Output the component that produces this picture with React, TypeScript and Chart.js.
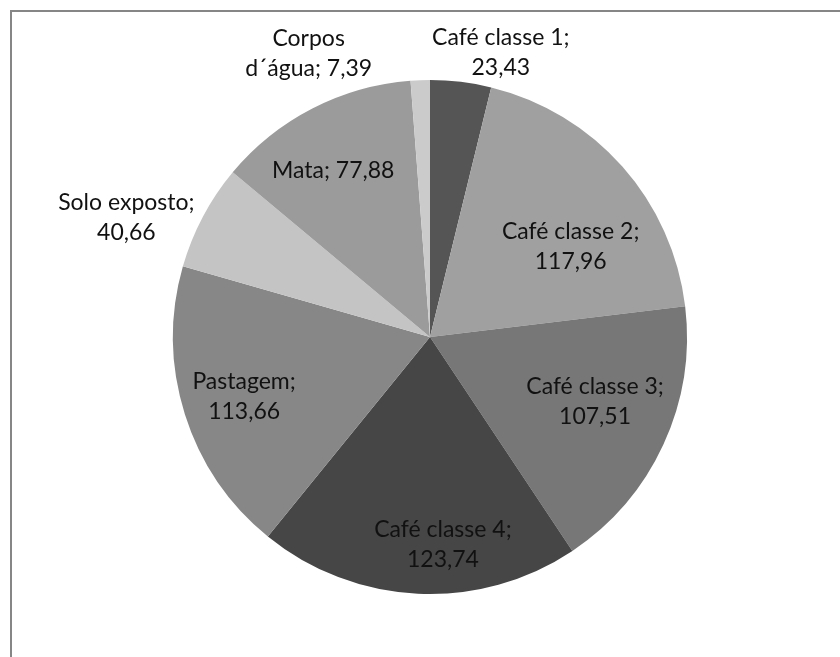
import React, { useEffect, useRef } from "react";
import { Chart, registerables } from "chart.js";

Chart.register(...registerables);

const categories = [
  "Café classe 1",
  "Café classe 2",
  "Café classe 3",
  "Café classe 4",
  "Pastagem",
  "Solo exposto",
  "Mata",
  "Corpos d´água",
];
const values = [23.43, 117.96, 107.51, 123.74, 113.66, 40.66, 77.88, 7.39];
const valueLabels = ["23,43", "117,96", "107,51", "123,74", "113,66", "40,66", "77,88", "7,39"];
const colors = ["#555555", "#a0a0a0", "#777777", "#464646", "#878787", "#c4c4c4", "#9b9b9b", "#cbcbcb"];

// label layout: text lines, radial factor (of outer radius) and angle shift (degrees) from slice mid-angle
const labelLines = [
  ["Café classe 1;", "23,43"],
  ["Café classe 2;", "117,96"],
  ["Café classe 3;", "107,51"],
  ["Café classe 4;", "123,74"],
  ["Pastagem;", "113,66"],
  ["Solo exposto;", "40,66"],
  ["Mata; 77,88"],
  ["Corpos", "d´água; 7,39"],
];
const labelRadius = [1.14, 0.65, 0.69, 0.81, 0.76, 1.27, 0.75, 1.2];
const labelShift = [7.1, 8.9, -3.3, -6.3, -0.4, -6.4, -2.9, -21];

const labelPlugin = {
  id: "sliceLabels",
  afterDatasetsDraw(chart: any) {
    const ctx = chart.ctx;
    const meta = chart.getDatasetMeta(0);
    ctx.save();
    ctx.fillStyle = "#111111";
    ctx.font = "23px Lato, 'Open Sans', sans-serif";
    ctx.textAlign = "center";
    ctx.textBaseline = "middle";
    meta.data.forEach((arc: any, i: number) => {
      const p = arc.getProps(["x", "y", "startAngle", "endAngle", "outerRadius"], true);
      const mid = (p.startAngle + p.endAngle) / 2 + (labelShift[i] * Math.PI) / 180;
      const r = p.outerRadius * labelRadius[i];
      const cx = p.x + Math.cos(mid) * r;
      const cy = p.y + Math.sin(mid) * r;
      const lines = labelLines[i];
      const lh = 30;
      lines.forEach((t, k) => {
        ctx.fillText(t, cx, cy + (k - (lines.length - 1) / 2) * lh);
      });
    });
    ctx.restore();
  },
};

const framePlugin = {
  id: "frame",
  beforeDraw(chart: any) {
    const ctx = chart.ctx;
    ctx.save();
    ctx.fillStyle = "#ffffff";
    ctx.fillRect(0, 0, chart.width, chart.height);
    ctx.strokeStyle = "#868686";
    ctx.lineWidth = 2;
    ctx.beginPath();
    ctx.moveTo(11, chart.height + 5);
    ctx.lineTo(11, 11);
    ctx.lineTo(chart.width + 5, 11);
    ctx.stroke();
    ctx.restore();
  },
};

export default function App() {
  const ref = useRef<HTMLCanvasElement>(null);
  useEffect(() => {
    if (!ref.current) return;
    const chart = new Chart(ref.current, {
      type: "pie",
      data: {
        labels: categories,
        datasets: [
          {
            data: values,
            backgroundColor: colors,
            borderWidth: 0,
          },
        ],
      },
      options: {
        responsive: false,
        animation: false,
        layout: { padding: { left: 173, right: 153, top: 80, bottom: 63 } },
        plugins: {
          legend: { display: false },
          tooltip: { enabled: false },
        },
      },
      plugins: [framePlugin, labelPlugin],
    });
    return () => chart.destroy();
  }, []);
  return (
    <div style={{ position: "absolute", left: 0, top: 0, width: 840, height: 657 }}>
      <canvas ref={ref} width={840} height={657} />
    </div>
  );
}
